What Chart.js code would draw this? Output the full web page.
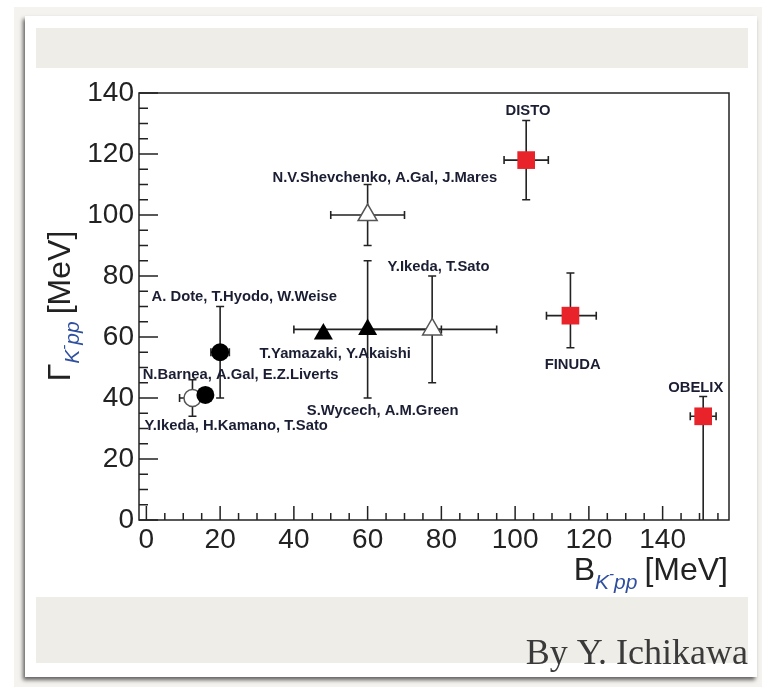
<!DOCTYPE html>
<html>
<head>
<meta charset="utf-8">
<script src="https://cdn.jsdelivr.net/npm/chart.js@4.4.0/dist/chart.umd.min.js"></script>
<style>
  html, body { margin: 0; padding: 0; background: #fff; }
  #page { position: relative; width: 762px; height: 687px; overflow: hidden; background: #fff; }
  #paper { position: absolute; left: 14px; top: 7px; width: 748px; height: 680px; background: #f5f3ef; }
  #card { position: absolute; left: 25px; top: 16px; width: 732px; height: 661px; background: #fff;
          box-shadow: -2px 3px 4px rgba(0,0,0,0.6); }
  #band { position: absolute; left: 36px; top: 28px; width: 712px; height: 635px; background: #efede8; }
  #plotbg { position: absolute; left: 36px; top: 68px; width: 712px; height: 529px; background: #fff; }
  #chart { position: absolute; left: 0; top: 0; }
</style>
</head>
<body>
<div id="page">
  <div id="paper"></div>
  <div id="card"></div>
  <div id="band"></div>
  <div id="plotbg"></div>
  <canvas id="chart" width="762" height="687"></canvas>
</div>
<script>
// experiments (red squares): DISTO, FINUDA, OBELIX
const expB = [103, 115, 151];
const expG = [118, 67, 34];
const expBLo = [97, 108.5, 147.5];
const expBHi = [109, 122, 154.5];
const expGLo = [105, 56.5, 0];
const expGHi = [131, 81, 40.5];

// filled circles: Dote-Hyodo-Weise, Barnea-Gal-Liverts
const fcB = [20, 16];
const fcG = [55, 41];
const fcBLo = [17.5, null];
const fcBHi = [22.5, null];
const fcGLo = [40, null];
const fcGHi = [70, null];

// open circle: Ikeda-Kamano-Sato
const ocB = [12.5];
const ocG = [40];
const ocBLo = [9];
const ocBHi = [16];
const ocGLo = [34];
const ocGHi = [46];

// filled triangles: Yamazaki-Akaishi, Wycech-Green
const ftB = [48, 60];
const ftG = [61, 62.5];
const ftBLo = [null, 40];
const ftBHi = [null, 80];
const ftGLo = [null, 40];
const ftGHi = [null, 85];

// open triangles: Shevchenko-Gal-Mares, Ikeda-Sato
const otB = [60, 77.5];
const otG = [100, 62.5];
const otBLo = [50, 60];
const otBHi = [70, 95];
const otGLo = [90, 45];
const otGHi = [110, 80];

// axis ticks
const xTicks = [0, 20, 40, 60, 80, 100, 120, 140];
const yTicks = [0, 20, 40, 60, 80, 100, 120, 140];

// annotation text, anchored in data units
const notes = [
  ['DISTO', 103.5, 134, 'center'],
  ['N.V.Shevchenko, A.Gal, J.Mares', 34.2, 112, 'left'],
  ['Y.Ikeda, T.Sato', 65.4, 83, 'left'],
  ['A. Dote, T.Hyodo, W.Weise', 1.4, 73, 'left'],
  ['T.Yamazaki, Y.Akaishi', 30.7, 54.4, 'left'],
  ['N.Barnea, A.Gal, E.Z.Liverts', -1.0, 47.5, 'left'],
  ['S.Wycech, A.M.Green', 43.5, 35.7, 'left'],
  ['Y.Ikeda, H.Kamano, T.Sato', -0.5, 30.8, 'left'],
  ['FINUDA', 115.6, 50.8, 'center'],
  ['OBELIX', 149, 43.3, 'center']
];

const SANS = "'Liberation Sans', Arial, sans-serif";
Chart.defaults.font.family = SANS;

function pts(bs, gs) {
  return bs.map((b, i) => ({ x: b, y: gs[i] }));
}

function mkSet(bs, gs, bLo, bHi, gLo, gHi, style) {
  return Object.assign({
    data: pts(bs, gs),
    bLo: bLo, bHi: bHi, gLo: gLo, gHi: gHi
  }, style);
}

// frame + inward ticks like ROOT
const framePlugin = {
  id: 'frame',
  beforeDatasetsDraw(chart) {
    const ctx = chart.ctx, a = chart.chartArea;
    const xs = chart.scales.x, ys = chart.scales.y;
    ctx.save();
    ctx.strokeStyle = '#222';
    ctx.lineWidth = 1.5;
    ctx.strokeRect(a.left, a.top, a.right - a.left, a.bottom - a.top);
    ctx.beginPath();
    for (let v = 0; v <= 155; v += 5) {
      const px = xs.getPixelForValue(v);
      const len = v % 20 === 0 ? 14 : 7;
      ctx.moveTo(px, a.bottom);
      ctx.lineTo(px, a.bottom - len);
    }
    for (let v = 0; v <= 140; v += 5) {
      const py = ys.getPixelForValue(v);
      const len = v % 20 === 0 ? 19 : 9;
      ctx.moveTo(a.left, py);
      ctx.lineTo(a.left + len, py);
    }
    ctx.stroke();
    ctx.restore();
  }
};

const errPlugin = {
  id: 'errbars',
  beforeDatasetsDraw(chart) {
    const ctx = chart.ctx;
    const xs = chart.scales.x, ys = chart.scales.y;
    const cap = 4;
    ctx.save();
    ctx.strokeStyle = '#222';
    ctx.lineWidth = 1.6;
    chart.data.datasets.forEach(ds => {
      ds.data.forEach((p, i) => {
        const cx = xs.getPixelForValue(p.x), cy = ys.getPixelForValue(p.y);
        ctx.beginPath();
        if (ds.bLo[i] != null) {
          const l = xs.getPixelForValue(ds.bLo[i]), r = xs.getPixelForValue(ds.bHi[i]);
          ctx.moveTo(l, cy); ctx.lineTo(r, cy);
          ctx.moveTo(l, cy - cap); ctx.lineTo(l, cy + cap);
          ctx.moveTo(r, cy - cap); ctx.lineTo(r, cy + cap);
        }
        if (ds.gLo[i] != null) {
          const t = ys.getPixelForValue(ds.gHi[i]), b = ys.getPixelForValue(ds.gLo[i]);
          ctx.moveTo(cx, t); ctx.lineTo(cx, b);
          ctx.moveTo(cx - cap, t); ctx.lineTo(cx + cap, t);
          if (ds.gLo[i] > 0) { ctx.moveTo(cx - cap, b); ctx.lineTo(cx + cap, b); }
        }
        ctx.stroke();
      });
    });
    ctx.restore();
  }
};

function drawParts(ctx, parts, x0, y0) {
  let x = x0;
  parts.forEach(p => {
    ctx.font = p.f;
    ctx.fillStyle = p.c;
    ctx.fillText(p.t, x, y0 + p.dy);
    x += ctx.measureText(p.t).width + (p.gap || 0);
  });
}
function partsWidth(ctx, parts) {
  let w = 0;
  parts.forEach(p => { ctx.font = p.f; w += ctx.measureText(p.t).width + (p.gap || 0); });
  return w;
}

const textPlugin = {
  id: 'texts',
  afterDraw(chart) {
    const ctx = chart.ctx;
    const xs = chart.scales.x, ys = chart.scales.y;
    ctx.save();
    // annotations
    ctx.font = 'bold 14.8px ' + SANS;
    ctx.fillStyle = '#1b1e33';
    ctx.textBaseline = 'middle';
    notes.forEach(n => {
      ctx.textAlign = n[3];
      ctx.fillText(n[0], xs.getPixelForValue(n[1]), ys.getPixelForValue(n[2]));
    });

    // axis titles
    ctx.textAlign = 'left';
    ctx.textBaseline = 'alphabetic';
    const blue = '#2f4f9f';
    const big = '32px ' + SANS;
    const sub = 'italic 21px ' + SANS;
    const sup = 'italic 15px ' + SANS;
    const xParts = [
      { t: 'B', f: big, c: '#222', dy: 0 },
      { t: 'K', f: sub, c: blue, dy: 9 },
      { t: '-', f: sup, c: blue, dy: -1 },
      { t: 'pp', f: sub, c: blue, dy: 9, gap: 7 },
      { t: '[MeV]', f: big, c: '#222', dy: 0 }
    ];
    const xw = partsWidth(ctx, xParts);
    drawParts(ctx, xParts, 728 - xw, 580);

    const yParts = [
      { t: '\u0393', f: big, c: '#222', dy: 0 },
      { t: 'K', f: sub, c: blue, dy: 9 },
      { t: '-', f: sup, c: blue, dy: -1 },
      { t: 'pp', f: sub, c: blue, dy: 9, gap: 7 },
      { t: '[MeV]', f: big, c: '#222', dy: 0 }
    ];
    const yw = partsWidth(ctx, yParts);
    ctx.save();
    ctx.translate(70, 306);
    ctx.rotate(-Math.PI / 2);
    drawParts(ctx, yParts, -yw / 2, 0);
    ctx.restore();

    // credit
    ctx.font = "36px 'Liberation Serif', 'Times New Roman', serif";
    ctx.fillStyle = '#3a3a3a';
    ctx.textAlign = 'right';
    ctx.fillText('By Y. Ichikawa', 748, 664);
    ctx.restore();
  }
};

const tickFont = { size: 28, family: SANS };

new Chart(document.getElementById('chart'), {
  type: 'scatter',
  data: {
    datasets: [
      mkSet(expB, expG, expBLo, expBHi, expGLo, expGHi,
        { pointStyle: 'rect', pointRadius: 12.5, backgroundColor: '#e8232a', borderColor: '#e8232a', borderWidth: 0 }),
      mkSet(fcB, fcG, fcBLo, fcBHi, fcGLo, fcGHi,
        { pointStyle: 'circle', pointRadius: 9, backgroundColor: '#000', borderColor: '#000', borderWidth: 0 }),
      mkSet(ocB, ocG, ocBLo, ocBHi, ocGLo, ocGHi,
        { pointStyle: 'circle', pointRadius: 8.5, backgroundColor: '#fff', borderColor: '#555', borderWidth: 1.5 }),
      mkSet(ftB, ftG, ftBLo, ftBHi, ftGLo, ftGHi,
        { pointStyle: 'triangle', pointRadius: 11, backgroundColor: '#000', borderColor: '#000', borderWidth: 0 }),
      mkSet(otB, otG, otBLo, otBHi, otGLo, otGHi,
        { pointStyle: 'triangle', pointRadius: 11, backgroundColor: '#fff', borderColor: '#555', borderWidth: 1.5 })
    ]
  },
  options: {
    responsive: false,
    animation: false,
    devicePixelRatio: 1,
    layout: { padding: { left: 0, top: 93, right: 33, bottom: 0 } },
    plugins: { legend: { display: false }, tooltip: { enabled: false } },
    scales: {
      x: {
        type: 'linear', min: -2, max: 158,
        afterFit: s => { s.height = 167; },
        afterBuildTicks: s => { s.ticks = xTicks.map(v => ({ value: v })); },
        ticks: { font: tickFont, color: '#222', padding: 3, maxRotation: 0, autoSkip: false, includeBounds: false },
        grid: { display: false, drawTicks: false, tickLength: 0 },
        border: { display: false }
      },
      y: {
        type: 'linear', min: 0, max: 140,
        afterFit: s => { s.width = 139; },
        afterBuildTicks: s => { s.ticks = yTicks.map(v => ({ value: v })); },
        ticks: { font: tickFont, color: '#222', padding: 5, autoSkip: false, includeBounds: false },
        grid: { display: false, drawTicks: false, tickLength: 0 },
        border: { display: false }
      }
    }
  },
  plugins: [framePlugin, errPlugin, textPlugin]
});
</script>
</body>
</html>
